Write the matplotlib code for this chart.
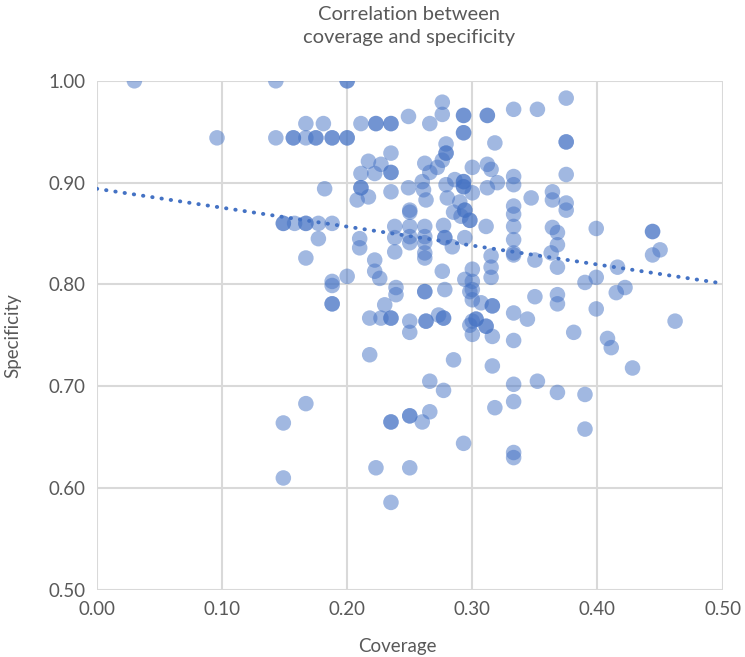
import numpy as np
import matplotlib.pyplot as plt

# coverage / specificity pairs
coverage = [
    0.030, 0.096, 0.143, 0.143, 0.149, 0.149, 0.149, 0.149, 0.157, 0.157,
    0.158, 0.167, 0.167, 0.167, 0.167, 0.167, 0.167, 0.175, 0.175, 0.177,
    0.177, 0.181, 0.182, 0.188, 0.188, 0.188, 0.188, 0.188, 0.188, 0.188,
    0.200, 0.200, 0.200, 0.200, 0.200, 0.208, 0.210, 0.210, 0.211, 0.211,
    0.211, 0.211, 0.217, 0.217, 0.218, 0.218, 0.222, 0.222, 0.222, 0.223,
    0.223, 0.223, 0.226, 0.227, 0.227, 0.230, 0.235, 0.235, 0.235, 0.235,
    0.235, 0.235, 0.235, 0.235, 0.235, 0.235, 0.235, 0.238, 0.238, 0.238,
    0.239, 0.239, 0.249, 0.249, 0.250, 0.250, 0.250, 0.250, 0.250, 0.250,
    0.250, 0.250, 0.250, 0.250, 0.260, 0.260, 0.261, 0.262, 0.262, 0.262,
    0.262, 0.262, 0.262, 0.262, 0.262, 0.263, 0.263, 0.263, 0.266, 0.266,
    0.266, 0.266, 0.272, 0.273, 0.276, 0.276, 0.276, 0.276, 0.277, 0.277,
    0.277, 0.277, 0.278, 0.278, 0.278, 0.279, 0.279, 0.279, 0.279, 0.280,
    0.284, 0.285, 0.285, 0.286, 0.290, 0.291, 0.293, 0.293, 0.293, 0.293,
    0.293, 0.293, 0.293, 0.293, 0.293, 0.294, 0.294, 0.294, 0.294, 0.298,
    0.298, 0.298, 0.298, 0.300, 0.300, 0.300, 0.300, 0.300, 0.300, 0.300,
    0.300, 0.303, 0.303, 0.307, 0.311, 0.311, 0.311, 0.312, 0.312, 0.312,
    0.312, 0.315, 0.315, 0.315, 0.315, 0.316, 0.316, 0.316, 0.316, 0.318,
    0.318, 0.320, 0.333, 0.333, 0.333, 0.333, 0.333, 0.333, 0.333, 0.333,
    0.333, 0.333, 0.333, 0.333, 0.333, 0.333, 0.333, 0.344, 0.347, 0.350,
    0.350, 0.352, 0.352, 0.363, 0.364, 0.364, 0.364, 0.368, 0.368, 0.368,
    0.368, 0.368, 0.368, 0.375, 0.375, 0.375, 0.375, 0.375, 0.375, 0.381,
    0.390, 0.390, 0.390, 0.399, 0.399, 0.399, 0.408, 0.411, 0.415, 0.416,
    0.422, 0.428, 0.444, 0.444, 0.444, 0.450, 0.462,
]
specificity = [
    1.000, 0.944, 1.000, 0.944, 0.860, 0.860, 0.664, 0.610, 0.944, 0.944,
    0.860, 0.944, 0.958, 0.860, 0.860, 0.826, 0.683, 0.944, 0.944, 0.860,
    0.845, 0.958, 0.894, 0.944, 0.944, 0.860, 0.803, 0.799, 0.781, 0.781,
    1.000, 1.000, 0.944, 0.944, 0.808, 0.883, 0.845, 0.836, 0.958, 0.909,
    0.895, 0.895, 0.921, 0.886, 0.767, 0.731, 0.909, 0.824, 0.813, 0.958,
    0.958, 0.620, 0.806, 0.918, 0.767, 0.780, 0.958, 0.958, 0.929, 0.910,
    0.910, 0.891, 0.767, 0.767, 0.665, 0.665, 0.586, 0.857, 0.846, 0.832,
    0.797, 0.790, 0.965, 0.895, 0.873, 0.871, 0.857, 0.847, 0.841, 0.764,
    0.753, 0.671, 0.671, 0.620, 0.901, 0.665, 0.893, 0.919, 0.857, 0.847,
    0.841, 0.831, 0.826, 0.793, 0.793, 0.883, 0.764, 0.764, 0.958, 0.910,
    0.705, 0.675, 0.915, 0.770, 0.979, 0.967, 0.922, 0.813, 0.858, 0.767,
    0.767, 0.696, 0.846, 0.846, 0.795, 0.938, 0.929, 0.929, 0.898, 0.885,
    0.837, 0.871, 0.726, 0.903, 0.881, 0.867, 0.966, 0.966, 0.949, 0.949,
    0.901, 0.901, 0.896, 0.896, 0.644, 0.873, 0.873, 0.846, 0.805, 0.863,
    0.863, 0.793, 0.760, 0.915, 0.890, 0.815, 0.803, 0.795, 0.785, 0.764,
    0.751, 0.766, 0.766, 0.782, 0.857, 0.759, 0.759, 0.966, 0.966, 0.918,
    0.895, 0.913, 0.828, 0.817, 0.807, 0.779, 0.779, 0.749, 0.720, 0.939,
    0.679, 0.900, 0.972, 0.906, 0.898, 0.877, 0.869, 0.857, 0.844, 0.831,
    0.829, 0.772, 0.745, 0.702, 0.685, 0.635, 0.630, 0.766, 0.885, 0.824,
    0.788, 0.972, 0.705, 0.831, 0.891, 0.883, 0.856, 0.851, 0.839, 0.817,
    0.790, 0.781, 0.694, 0.983, 0.940, 0.940, 0.908, 0.880, 0.873, 0.753,
    0.802, 0.692, 0.658, 0.855, 0.807, 0.776, 0.747, 0.738, 0.792, 0.817,
    0.797, 0.718, 0.852, 0.852, 0.829, 0.834, 0.764,
]

# linear trendline endpoints (Excel dotted trendline)
trend_x = [0.0, 0.5]
trend_y = [0.894, 0.801]

x_ticks = [0.0, 0.1, 0.2, 0.3, 0.4, 0.5]
y_ticks = [0.5, 0.6, 0.7, 0.8, 0.9, 1.0]

plt.rcParams['font.family'] = ['Lato', 'DejaVu Sans']
text_col = '#595959'
blue = '#4472C4'

fig = plt.figure(figsize=(7.45, 6.57), dpi=100)
ax = fig.add_axes([0.130, 0.102, 0.840, 0.775])

ax.scatter(coverage, specificity, s=125, color=blue, alpha=0.5,
           edgecolors='none', zorder=3)
ax.plot(trend_x, trend_y, color=blue, linewidth=2.8,
        linestyle=(0, (0.1, 2.3)), dash_capstyle='round', zorder=4)

ax.set_xlim(0, 0.5)
ax.set_ylim(0.5, 1.0)
ax.set_xticks(x_ticks)
ax.set_yticks(y_ticks)
ax.set_xticklabels([f'{v:.2f}' for v in x_ticks])
ax.set_yticklabels([f'{v:.2f}' for v in y_ticks])
ax.tick_params(length=0, labelsize=13.5, labelcolor=text_col, pad=8)

ax.grid(True, color='#D9D9D9', linewidth=1.5, zorder=0)
ax.set_axisbelow(True)
for s in ax.spines.values():
    s.set_visible(False)

ax.set_xlabel('Coverage', fontsize=13.5, color=text_col, labelpad=12)
ax.xaxis.set_label_coords(0.48, -0.095)
ax.set_ylabel('Specificity', fontsize=13.5, color=text_col, labelpad=20)
fig.text(0.549, 0.960, 'Correlation between\ncoverage and specificity',
         ha='center', va='center', fontsize=14.5, color=text_col,
         linespacing=1.45)

fig.savefig('out.png', dpi=100)
